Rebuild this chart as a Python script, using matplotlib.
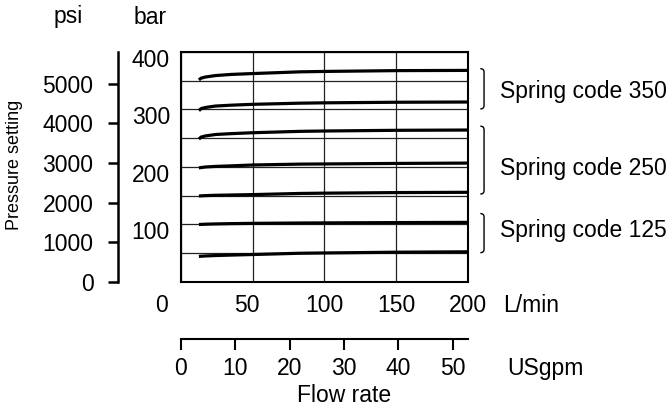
import numpy as np
import matplotlib
matplotlib.use("Agg")
import matplotlib.pyplot as plt
from matplotlib.path import Path
from matplotlib.patches import PathPatch
from matplotlib.ticker import FuncFormatter
from matplotlib.transforms import ScaledTranslation

FS = 16.5
plt.rcParams.update({"font.family": ["Liberation Sans", "DejaVu Sans"], "font.size": FS})

# pressure vs flow, one curve per setting (bar, flow in L/min)
flow = [12.5, 14, 17, 24, 35, 50, 83, 100, 150, 200]
curves = [
    [351.5, 354.5, 356.5, 359.0, 361.0, 362.5, 365.5, 366.2, 367.6, 368.0],
    [298.0, 301.5, 303.5, 306.0, 307.5, 309.0, 311.0, 311.6, 312.6, 313.0],
    [248.5, 252.0, 254.0, 256.5, 258.0, 259.6, 262.0, 262.6, 263.8, 264.3],
    [198.5, 199.0, 200.0, 201.0, 202.0, 203.5, 205.0, 205.3, 206.2, 206.8],
    [149.6, 149.8, 150.2, 150.8, 151.3, 152.0, 154.0, 154.5, 155.5, 156.0],
    [100.0, 100.2, 100.5, 101.0, 101.5, 102.0, 102.6, 102.8, 103.3, 103.7],
    [44.5, 44.8, 45.3, 46.0, 46.8, 47.8, 50.0, 50.5, 51.8, 52.5],
]

spring_codes = ["Spring code 350", "Spring code 250", "Spring code 125"]
bracket_top = [371, 271, 119]
bracket_bottom = [301, 153, 51]
label_y = [331, 198, 90]

BAR_TO_PSI = 14.5038
LMIN_PER_GPM = 3.785

fig = plt.figure(figsize=(6.72, 4.13), dpi=100)
ax = fig.add_axes([0.2693, 0.3172, 0.4271, 0.5569])

for ys in curves:
    ax.plot(flow, ys, color="black", lw=2.3, solid_capstyle="butt")

ax.set_xlim(0, 200)
ax.set_ylim(0, 400)
ax.set_xticks(np.arange(0, 201, 50))
ax.set_yticks(np.arange(0, 401, 50))
ax.yaxis.set_major_formatter(FuncFormatter(
    lambda v, _: f"{int(v)}" if v > 0 and v % 100 == 0 else ""))
ax.grid(True, color="#222222", lw=0.9)
ax.tick_params(axis="both", length=0, labelsize=FS)
ax.tick_params(axis="y", pad=8)
ax.tick_params(axis="x", pad=9)
for s in ax.spines.values():
    s.set_linewidth(1.5)

# bar labels sit a little below their grid line, the 0 L/min label is pushed left
for lab in ax.get_yticklabels():
    lab.set_transform(lab.get_transform() + ScaledTranslation(0, -4 / 72, fig.dpi_scale_trans))
xl = ax.get_xticklabels()
xl[0].set_transform(xl[0].get_transform() + ScaledTranslation(-14 / 72, 0, fig.dpi_scale_trans))
xl[1].set_transform(xl[1].get_transform() + ScaledTranslation(-4 / 72, 0, fig.dpi_scale_trans))

# psi scale on the far left
psi = ax.secondary_yaxis(-0.2178, functions=(lambda b: b * BAR_TO_PSI, lambda p: p / BAR_TO_PSI))
psi.set_yticks(np.arange(0, 5001, 1000))
psi.spines["left"].set_linewidth(1.8)
psi.tick_params(length=7, width=1.8, pad=11, labelsize=FS)

# USgpm scale below
gpm = ax.secondary_xaxis(-0.248, functions=(lambda l: l / LMIN_PER_GPM, lambda g: g * LMIN_PER_GPM))
gpm.set_xticks(np.arange(0, 51, 10))
gpm.spines["bottom"].set_linewidth(1.5)
gpm.tick_params(length=8, width=1.5, pad=5, labelsize=FS)

# brackets grouping the curves by spring code
hx, vx, r = 208.6, 211.2, 6.0
for top, bot, txt, ty in zip(bracket_top, bracket_bottom, spring_codes, label_y):
    verts = [(hx, top), (vx, top), (vx, top - r), (vx, bot + r), (vx, bot), (hx, bot)]
    codes = [Path.MOVETO, Path.CURVE3, Path.CURVE3, Path.LINETO, Path.CURVE3, Path.CURVE3]
    ax.add_patch(PathPatch(Path(verts, codes), fill=False, lw=1.0, color="black", clip_on=False))
    ax.text(222, ty, txt, ha="left", va="center", fontsize=FS, clip_on=False)

fig.text(68 / 672, 1 - 17 / 413, "psi", ha="center", va="center", fontsize=FS)
fig.text(150 / 672, 1 - 17 / 413, "bar", ha="center", va="center", fontsize=FS)
fig.text(15 / 672, 1 - 165 / 413, "Pressure setting", rotation=90, ha="center", va="center", fontsize=13)
fig.text(503 / 672, 1 - 305 / 413, "L/min", ha="left", va="center", fontsize=FS)
fig.text(507 / 672, 1 - 368 / 413, "USgpm", ha="left", va="center", fontsize=FS)
fig.text(344 / 672, 1 - 396 / 413, "Flow rate", ha="center", va="center", fontsize=FS)

fig.savefig("out.png", dpi=100)
